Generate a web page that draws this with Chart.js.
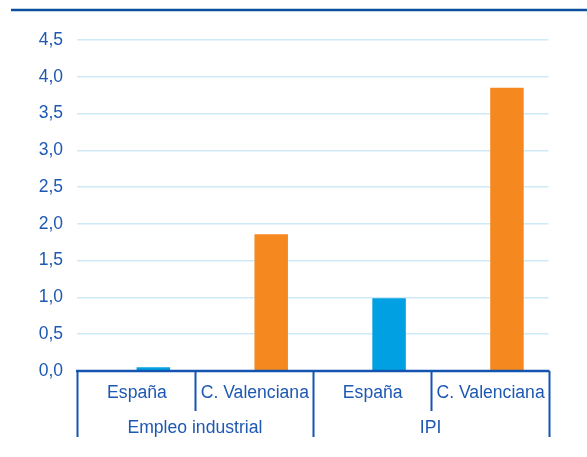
<!DOCTYPE html>
<html>
<head>
<meta charset="utf-8">
<script src="https://cdn.jsdelivr.net/npm/chart.js@4"></script>
<style>
html,body{margin:0;padding:0;background:#fff;}
#wrap{width:587px;height:457px;position:relative;}
</style>
</head>
<body>
<div id="wrap"><canvas id="c" width="587" height="457"></canvas></div>
<script>
const groups = ['Empleo industrial', 'IPI'];
const subcategories = ['España', 'C. Valenciana', 'España', 'C. Valenciana'];
const values = [0.05, 1.86, 0.99, 3.85];
const spacer = [null, null, null, null];
const yTicks = [0, 0.5, 1, 1.5, 2, 2.5, 3, 3.5, 4, 4.5];

const BLUE = '#00a0e3', ORANGE = '#f5891f';
const TEXT = '#1d58b2', LINE = '#1254b0', TOPLINE = '#0b4f9e';
const FONT = '"Liberation Sans", Arial, sans-serif';

const axisPlugin = {
  id: 'axisPlugin',
  afterDraw(chart) {
    const ctx = chart.ctx;
    const x = chart.scales.x, y = chart.scales.y;
    const area = chart.chartArea;
    const y0 = y.getPixelForValue(0);
    const n = subcategories.length;
    const cw = (area.right - area.left) / n;
    ctx.save();
    // top rule
    ctx.strokeStyle = TOPLINE; ctx.lineWidth = 2.5;
    ctx.beginPath(); ctx.moveTo(11, 10); ctx.lineTo(587, 10); ctx.stroke();
    // axis line
    ctx.strokeStyle = LINE; ctx.lineWidth = 2.5;
    ctx.beginPath(); ctx.moveTo(area.left - 1, y0); ctx.lineTo(area.right + 1, y0); ctx.stroke();
    // separators
    ctx.lineWidth = 2;
    for (let i = 0; i <= n; i++) {
      const bx = Math.round(x.getPixelForValue(i) - cw / 2) + 0.5;
      const isGroup = (i % 2 === 0);
      ctx.beginPath();
      ctx.moveTo(bx, y0);
      ctx.lineTo(bx, isGroup ? 437 : 411);
      ctx.stroke();
    }
    // labels
    ctx.fillStyle = TEXT;
    ctx.textAlign = 'center';
    ctx.textBaseline = 'alphabetic';
    ctx.font = '17.6px ' + FONT;
    for (let i = 0; i < n; i++) {
      ctx.fillText(subcategories[i], x.getPixelForValue(i) + 1, 398);
    }
    ctx.font = '17.6px ' + FONT;
    for (let g = 0; g < groups.length; g++) {
      const cx = (x.getPixelForValue(g * 2) + x.getPixelForValue(g * 2 + 1)) / 2;
      ctx.fillText(groups[g], cx, 432.5);
    }
    ctx.restore();
  }
};

new Chart(document.getElementById('c'), {
  type: 'bar',
  data: {
    labels: subcategories,
    datasets: [
      { data: spacer, backgroundColor: 'rgba(0,0,0,0)' },
      { data: values, backgroundColor: [BLUE, ORANGE, BLUE, ORANGE] }
    ]
  },
  options: {
    responsive: false,
    animation: false,
    devicePixelRatio: 1,
    layout: { padding: { left: 0, right: 38.5, top: 40, bottom: 86 } },
    categoryPercentage: 0.59,
    barPercentage: 0.963,
    plugins: { legend: { display: false }, tooltip: { enabled: false } },
    scales: {
      x: { display: false },
      y: {
        min: 0, max: 4.5,
        afterBuildTicks: (s) => { s.ticks = yTicks.map(v => ({ value: v })); },
        afterFit: (s) => { s.width = 77; },
        border: { display: false },
        grid: { color: '#cfeaf7', lineWidth: 1.5, drawTicks: false },
        ticks: {
          color: TEXT,
          font: { family: FONT, size: 17.5 },
          padding: 14,
          callback: (v) => Number(v).toFixed(1).replace('.', ',')
        }
      }
    }
  },
  plugins: [axisPlugin]
});
</script>
</body>
</html>
